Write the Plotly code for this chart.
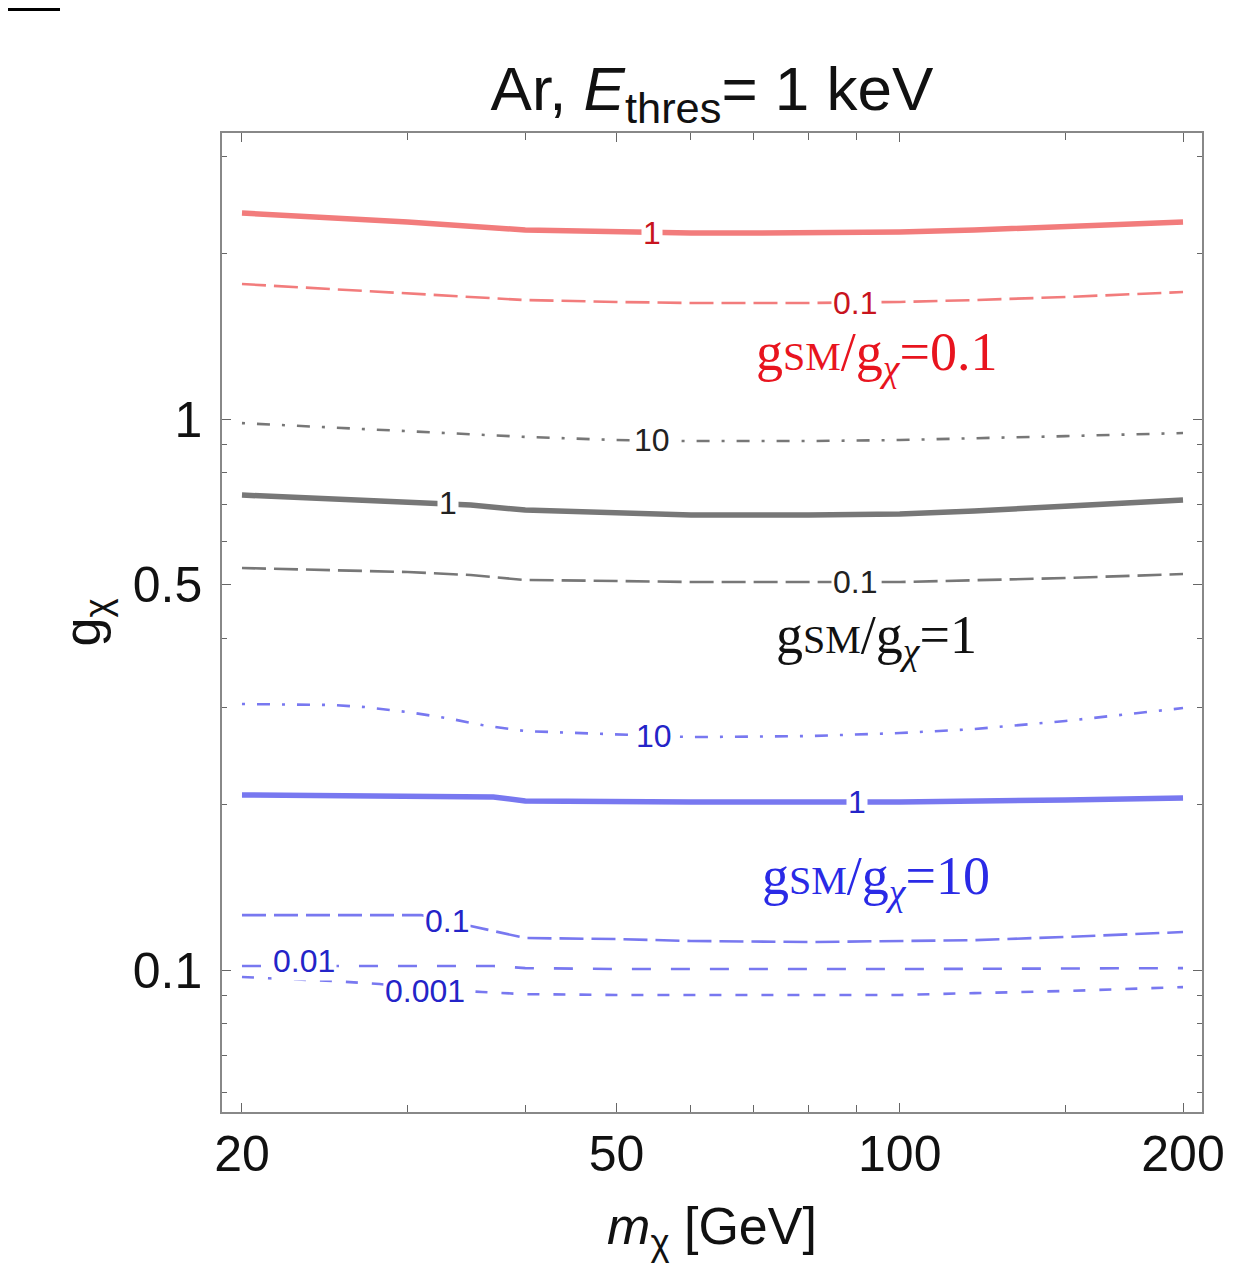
import plotly.graph_objects as go
import math

# ---------------- data ----------------
# g_SM/g_chi = 0.1 (red)
red_1_m = [20, 30, 40, 50, 60, 70, 80, 100, 120, 150, 200]
red_1_g = [2.365, 2.278, 2.203, 2.185, 2.176, 2.176, 2.176, 2.185, 2.203, 2.231, 2.278]
red_01_m = [20, 30, 40, 50, 60, 80, 100, 120, 150, 200]
red_01_g = [1.758, 1.693, 1.644, 1.631, 1.624, 1.624, 1.631, 1.644, 1.665, 1.700]

# g_SM/g_chi = 1 (gray)
gray_10_m = [20, 30, 40, 50, 60, 80, 100, 150, 200]
gray_10_g = [0.983, 0.951, 0.928, 0.916, 0.912, 0.912, 0.916, 0.931, 0.943]
gray_1_m = [20, 30, 35, 40, 50, 60, 80, 100, 120, 150, 200]
gray_1_g = [0.7278, 0.7068, 0.6980, 0.6836, 0.6750, 0.6694, 0.6694, 0.6722, 0.6807, 0.6951, 0.7127]
gray_01_m = [20, 30, 35, 40, 50, 60, 80, 100, 150, 200]
gray_01_g = [0.5365, 0.5276, 0.5210, 0.5103, 0.5082, 0.5060, 0.5060, 0.5060, 0.5145, 0.5232]

# g_SM/g_chi = 10 (blue)
blue_10_m = [20, 25, 27, 30, 33, 36, 40, 50, 60, 80, 100, 120, 150, 200]
blue_10_g = [0.3039, 0.3027, 0.3001, 0.2939, 0.2866, 0.2783, 0.2714, 0.2681, 0.2647, 0.2658,
             0.2692, 0.2737, 0.2831, 0.2988]
blue_1_m = [20, 30, 37, 40, 50, 60, 80, 100, 150, 200]
blue_1_g = [0.2078, 0.2069, 0.2061, 0.2026, 0.2018, 0.2018, 0.2018, 0.2018, 0.2035, 0.2052]
blue_01_m = [20, 25, 31, 35, 40, 50, 60, 80, 100, 120, 150, 200]
blue_01_g = [0.1258, 0.1258, 0.1258, 0.1202, 0.1143, 0.1138, 0.1129, 0.1124, 0.1129, 0.1133,
             0.1148, 0.1172]
blue_001_m = [20, 30, 37, 40, 50, 100, 150, 200]
blue_001_g = [0.1017, 0.1017, 0.1017, 0.1008, 0.1004, 0.1004, 0.1008, 0.1008]
blue_0001_m = [20, 25, 28, 31, 36, 40, 50, 60, 80, 100, 120, 150, 200]
blue_0001_g = [0.0971, 0.0955, 0.0943, 0.0927, 0.0912, 0.0904, 0.0901, 0.0901, 0.0901, 0.0901,
               0.0908, 0.0916, 0.0931]

# inline contour labels: (text, m, g, group)
contour_labels = [
    ("1", 54.6, 2.176, "red"),
    ("0.1", 89.6, 1.624, "red"),
    ("10", 54.6, 0.916, "gray"),
    ("1", 33.1, 0.703, "gray"),
    ("0.1", 89.6, 0.506, "gray"),
    ("10", 54.8, 0.2664, "blue"),
    ("1", 90.0, 0.2018, "blue"),
    ("0.1", 33.0, 0.1225, "blue"),
    ("0.01", 23.3, 0.1037, "blue"),
    ("0.001", 31.3, 0.0917, "blue"),
]

# ratio annotations: (ratio text, m, g, group)
ratio_labels = [
    ("0.1", 94.4, 1.306, "red"),
    ("1", 94.4, 0.4004, "gray"),
    ("10", 94.4, 0.1457, "blue"),
]

x_tickvals = [20, 50, 100, 200]
x_minor = [30, 40, 60, 70, 80, 90, 150]
y_tickvals = [0.1, 0.5, 1]
y_ticktext = ["0.1", "0.5", "1"]
y_minor = [0.06, 0.07, 0.08, 0.09, 0.2, 0.3, 0.4, 0.6, 0.7, 0.8, 0.9, 2, 3]

# ---------------- styles ----------------
line_col = {"red": "#f27c7c", "gray": "#777777", "blue": "#7878f0"}
label_col = {"red": "#c8141e", "gray": "#222222", "blue": "#2424c8"}
ratio_col = {"red": "#e8141e", "gray": "#111111", "blue": "#2a2ae6"}

DASH = "24px,8px"
DASHDOT = "3px,12px,13px,12px"

fig = go.Figure()

def add(m, g, grp, width, dash):
    fig.add_trace(go.Scatter(x=m, y=g, mode="lines",
                             line=dict(color=line_col[grp], width=width, dash=dash),
                             hoverinfo="skip", showlegend=False))

add(red_1_m, red_1_g, "red", 5.5, "solid")
add(red_01_m, red_01_g, "red", 2.6, DASH)
add(gray_10_m, gray_10_g, "gray", 2.6, DASHDOT)
add(gray_1_m, gray_1_g, "gray", 5.5, "solid")
add(gray_01_m, gray_01_g, "gray", 2.6, DASH)
add(blue_10_m, blue_10_g, "blue", 2.6, DASHDOT)
add(blue_1_m, blue_1_g, "blue", 5.5, "solid")
add(blue_01_m, blue_01_g, "blue", 2.6, DASH)
add(blue_001_m, blue_001_g, "blue", 2.6, "19px,20px")
add(blue_0001_m, blue_0001_g, "blue", 2.6, "12px,14px")

for txt, m, g, grp in contour_labels:
    fig.add_annotation(x=math.log10(m), y=math.log10(g), xref="x", yref="y",
                       text=txt, showarrow=False, bgcolor="white", borderpad=1,
                       font=dict(family="Liberation Sans, Arial", size=32, color=label_col[grp]))

for txt, m, g, grp in ratio_labels:
    t = ('g<span style="font-size:40px">SM</span>/g<sub><i>χ</i></sub>=' + txt)
    fig.add_annotation(x=math.log10(m), y=math.log10(g), xref="x", yref="y",
                       text=t, showarrow=False,
                       font=dict(family="Liberation Serif, Times New Roman", size=54,
                                 color=ratio_col[grp]))

axis_common = dict(
    type="log", showgrid=False, zeroline=False,
    showline=True, linecolor="#888888", linewidth=1.5, mirror="allticks",
    ticks="inside", ticklen=9, tickwidth=1.2, tickcolor="#666666",
    tickfont=dict(family="Liberation Sans, Arial", size=50, color="#111111"),
)

fig.update_xaxes(
    **axis_common,
    range=[1.2798, 2.3212],
    tickvals=x_tickvals, ticktext=[str(v) for v in x_tickvals],
    ticklabelstandoff=-3,
    minor=dict(tickvals=x_minor, ticks="inside", ticklen=7, tickcolor="#666666", tickwidth=1),
    title=dict(text="<i>m</i><sub>χ</sub> [GeV]", standoff=27,
               font=dict(family="Liberation Sans, Arial", size=52, color="#111111")),
)
fig.update_yaxes(
    **axis_common,
    range=[-1.2577, 0.5191],
    tickvals=y_tickvals, ticktext=y_ticktext,
    ticklabelstandoff=8,
    minor=dict(tickvals=y_minor, ticks="inside", ticklen=5, tickcolor="#666666", tickwidth=1),
    title=dict(text="g<sub>χ</sub>", standoff=16,
               font=dict(family="Liberation Sans, Arial", size=52, color="#111111")),
)

# the page body has an 8px default margin, so the figure is drawn 8px in from the corner
W, H = 1252, 1261
fig.update_layout(
    width=W, height=H,
    margin=dict(l=214, r=58, t=125, b=157, autoexpand=False),
    paper_bgcolor="white", plot_bgcolor="white",
    title=dict(text="Ar, <i>E</i><sub>thres</sub>= 1 keV", x=0.5, xref="paper",
               y=1 - 80 / H, yref="container", yanchor="middle", xanchor="center",
               font=dict(family="Liberation Sans, Arial", size=62, color="#111111")),
    shapes=[dict(type="line", xref="paper", yref="paper",
                 x0=-0.2265, x1=-0.1653, y0=1.1267, y1=1.1267,
                 line=dict(color="black", width=4))],
)

fig.write_html("out.html")
